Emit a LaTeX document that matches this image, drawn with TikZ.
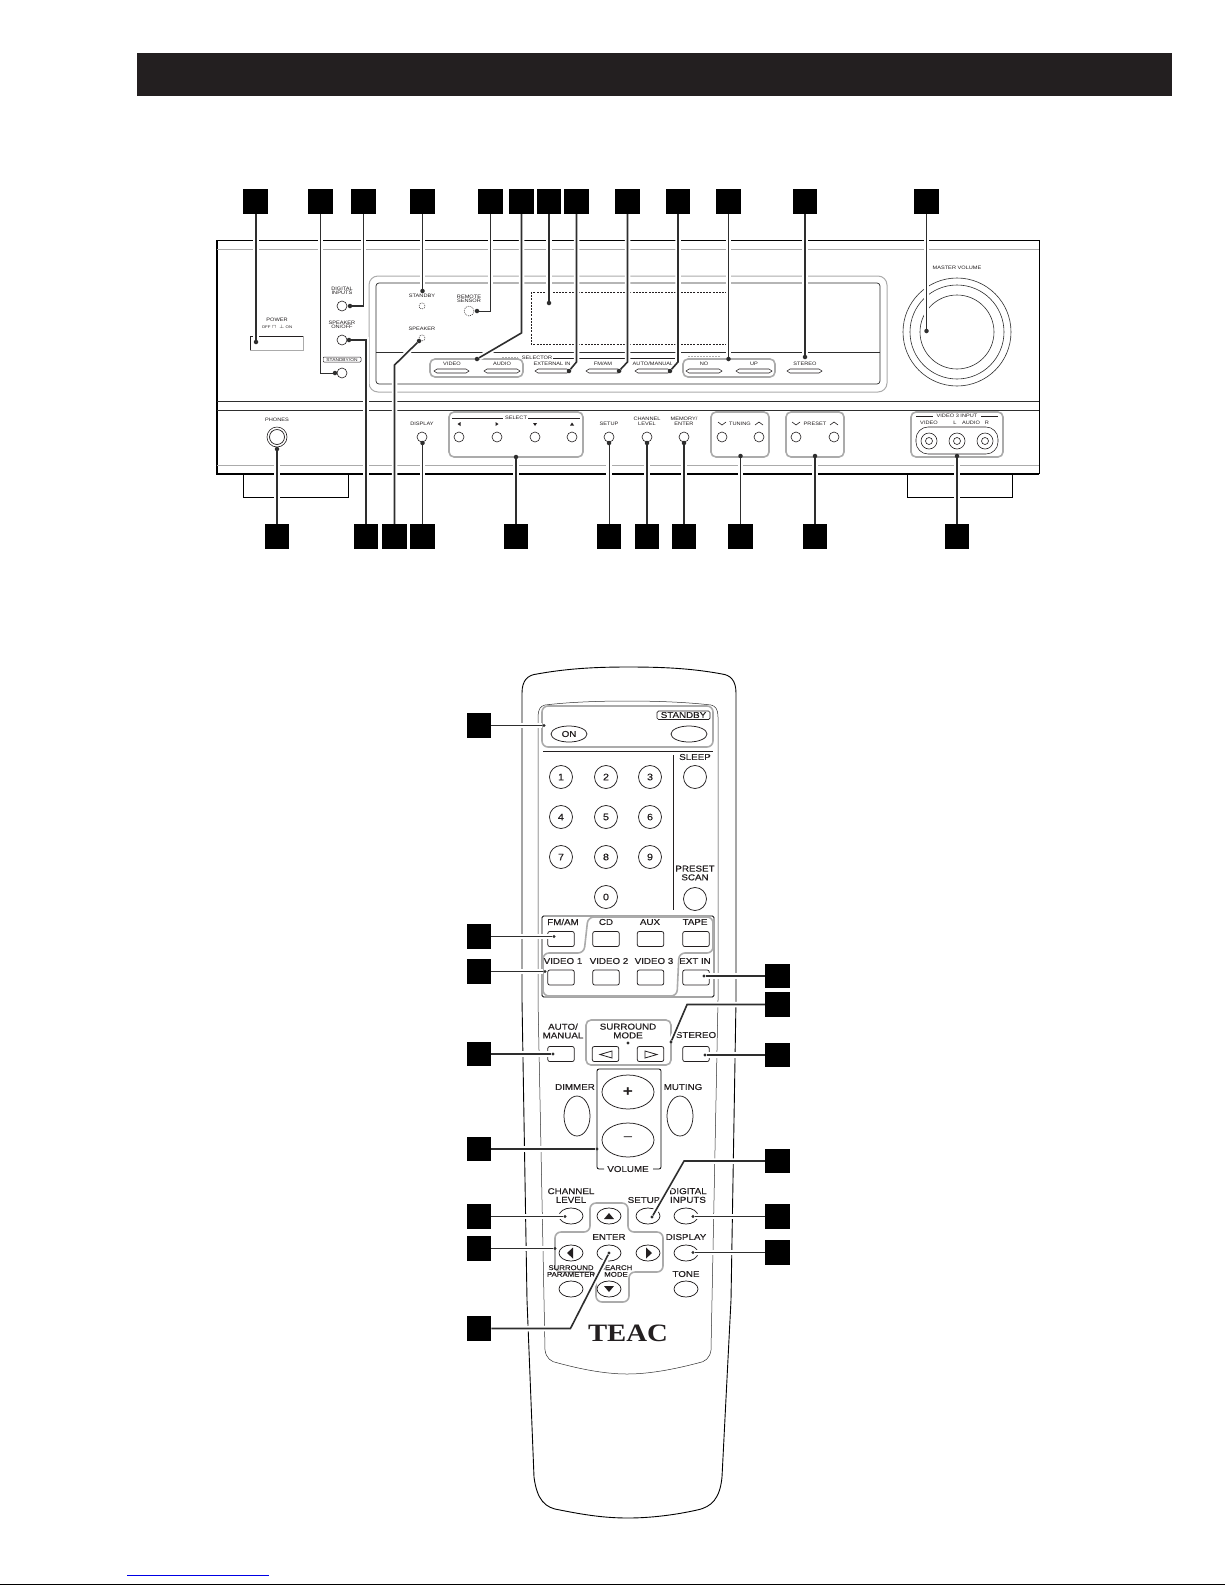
\documentclass[tikz,border=0pt]{standalone}
\usepackage{fontspec}
\setmainfont[FakeStretch=1.15]{Liberation Sans}
\newfontfamily\remfont[FakeStretch=1.15,FakeBold=0.35]{Liberation Sans}
\newfontfamily\teacfont[FakeStretch=1.15]{Liberation Serif}
\usetikzlibrary{shapes.geometric,calc}
\pgfdeclarelayer{art}
\pgfdeclarelayer{lead}
\pgfsetlayers{art,lead,main}
\definecolor{ink}{HTML}{231F20}
\definecolor{lineink}{HTML}{2E2E2E}
\definecolor{grp}{HTML}{ABABAB}
\tikzset{
  lbl/.style={inner sep=0pt,text=ink,align=center},
  rtxt/.style={lbl,font=\fontsize{4.9}{4.6}\selectfont},
  tiny/.style={lbl,font=\fontsize{3.8}{3.8}\selectfont},
  ctxt/.style={lbl,font=\remfont\fontsize{8.5}{8.7}\selectfont},
  stxt/.style={lbl,font=\remfont\fontsize{6.8}{6.7}\selectfont},
  sq/.style={fill=black,draw=none,inner sep=0pt,minimum size=24.5pt},
  dotp/.style={circle,fill=lineink,draw=none,inner sep=0pt,minimum size=4.5pt},
  dots/.style={circle,fill=lineink,draw=none,inner sep=0pt,minimum size=3.4pt},
  thinl/.style={draw=lineink,line width=1pt,preaction={draw=white,line width=5.5pt}},
  thickl/.style={draw=lineink,line width=1.6pt,preaction={draw=white,line width=5.5pt}},
  group/.style={draw=grp,line width=1.6pt,rounded corners=5pt},
  rb/.style={circle,draw=ink,line width=.6pt,inner sep=0pt,minimum size=#1},
  dashb/.style={circle,draw=ink,line width=.5pt,dash pattern=on 1pt off 1pt,inner sep=0pt,minimum size=#1},
  numkey/.style={circle,draw=ink,line width=.75pt,inner sep=0pt,minimum size=23pt,text=ink,font=\remfont\fontsize{9.4}{9.4}\selectfont},
  keybtn/.style={rectangle,rounded corners=2pt,draw=ink,line width=.75pt,inner sep=0pt,minimum width=26.5pt,minimum height=15pt},
  oval/.style 2 args={ellipse,draw=ink,line width=.75pt,inner sep=0pt,minimum width=#1,minimum height=#2},
}
\newcommand{\hexbtn}[2]{\draw[ink,line width=.55pt] ({#1+3},369)--({#2-3},369)--(#2,371)--({#2-3},373)--({#1+3},373)--(#1,371)--cycle;}
\begin{document}
\begin{tikzpicture}[x=1pt,y=-1pt]
\useasboundingbox (0,0) rectangle (1225,1585);
\begin{pgfonlayer}{art}
\fill[white] (0,0) rectangle (1225,1585);
\fill[ink] (137,53) rectangle (1172,96);
\draw[black,line width=1pt] (0,1584) -- (1225,1584);
\draw[blue!90!black,line width=1pt] (127,1575) -- (269,1575);

% ---------- receiver ----------
\draw[black,line width=1pt] (217,240) -- (1039,240) -- (1039,474);
\draw[black,line width=1.6pt] (217,240) -- (217,474) -- (1039,474);
\draw[black,line width=.9pt] (243,474) -- (243,497) -- (348,497) -- (348,474);
\draw[black,line width=.9pt] (907,474) -- (907,497) -- (1012,497) -- (1012,474);
\draw[grp,line width=1pt] (217,249.5) -- (1039,249.5);
\draw[grp,line width=1pt] (217,465) -- (1039,465);
\draw[lineink,line width=.8pt] (217,401) -- (1039,401);
\draw[lineink,line width=.6pt] (217,410) -- (1039,410);

% display window
\draw[grp,line width=1pt,rounded corners=9pt] (369,276) rectangle (887,392);
\draw[lineink,line width=.7pt,rounded corners=3pt] (376,283) rectangle (880,384);
\draw[lineink,line width=.7pt] (376,352) -- (880,352);
\draw[ink,line width=.7pt,dash pattern=on 2pt off 1.2pt] (531,292) rectangle (726,344);
\draw[ink,line width=.7pt] (553,358) -- (675,358);
\draw[grp,line width=.6pt,dash pattern=on 2pt off 1pt] (502,357) -- (518,357);
\draw[grp,line width=.6pt,dash pattern=on 2pt off 1pt] (688,356) -- (720,356);

\node[rtxt] (tPower) at (277,320) {POWER};
\node[tiny] (tOff) at (277,327) {OFF\,\,$\sqcap$\,\,\,\,$\perp$\,\,ON};
\draw[grp,line width=.8pt] (250,336) rectangle (303,350);
\draw[ink,line width=.5pt] (250,350) -- (250,336) -- (303,336);
\node[rtxt] (tDig) at (342,291) {DIGITAL\\INPUTS};
\node[rb=10pt] (bDig) at (342,306) {};
\node[rtxt] (tSpk) at (342,325) {SPEAKER\\ON/OFF};
\node[rb=10pt] (bSpk) at (342,340) {};
\node[rtxt,font=\fontsize{4.2}{4.2}\selectfont] (tStb) at (342,359.5) {STANDBY/ON};
\draw[ink,line width=.5pt,rounded corners=1pt] (323,357) rectangle (361,362);
\node[rb=10pt] (bStb) at (342,373) {};
\node[rtxt] (tStby) at (422,296) {STANDBY};
\node[dashb=6pt] (bStby) at (422,306) {};
\node[rtxt] (tRem) at (469,299) {REMOTE\\SENSOR};
\node[dashb=10pt] (bRem) at (469,311) {};
\node[rtxt] (tSpkr) at (422,329) {SPEAKER};
\node[dashb=6pt] (bSpkr) at (422,338) {};

\draw[group] (430,359) rectangle (523,377);
\node[rtxt] (tVid) at (452,363.5) {VIDEO};
\node[rtxt] (tAud) at (502,363.5) {AUDIO};
\hexbtn{434}{469}
\hexbtn{484}{520}
\node[rtxt] (tSel) at (537,358) {SELECTOR};
\node[rtxt] (tExt) at (552,363.5) {EXTERNAL IN};
\hexbtn{535}{570}
\node[rtxt] (tFm) at (603,363.5) {FM/AM};
\hexbtn{586}{621}
\node[rtxt] (tAm) at (653,363.5) {AUTO/MANUAL};
\hexbtn{635}{671}
\draw[group] (683,359) rectangle (775,377);
\node[rtxt] (tNo) at (704,363.5) {NO};
\node[rtxt] (tUp) at (754,363.5) {UP};
\hexbtn{686}{722}
\hexbtn{736}{772}
\node[rtxt] (tSt) at (805,363.5) {STEREO};
\hexbtn{787}{822}

\node[rtxt] (tMV) at (957,268) {MASTER VOLUME};
\node[rb=108pt,draw=lineink] (vol1) at (957,332) {};
\node[rb=94pt,draw=lineink] (vol2) at (957,332) {};
\node[rb=74pt,draw=lineink] (vol3) at (957,332) {};

\node[rtxt] (tPh) at (277,420) {PHONES};
\node[rb=20pt] (jk1) at (277,437) {};
\node[rb=15pt,line width=.7pt] (jk2) at (277,437) {};
\node[rtxt] (tDisp) at (422,424) {DISPLAY};
\node[rb=10pt] (bDisp) at (422,437) {};
\draw[group] (449,412) rectangle (583,457);
\node[rtxt] (tSelect) at (516,418) {SELECT};
\draw[ink,line width=.6pt] (452,418) -- (503,418) (528,418) -- (580,418);
\foreach \nm/\x in {a/459,b/497,c/535,d/572} \node[rb=10pt] (bS\nm) at (\x,437) {};
\fill[ink] (457.5,424) -- (460.5,422) -- (460.5,426) -- cycle;
\fill[ink] (498.5,424) -- (495.5,422) -- (495.5,426) -- cycle;
\fill[ink] (533,423) -- (537,423) -- (535,426) -- cycle;
\fill[ink] (570,425.5) -- (574,425.5) -- (572,422.5) -- cycle;
\node[rtxt] (tSetup) at (609,424) {SETUP};
\node[rb=10pt] (bSetup) at (609,437) {};
\node[rtxt] (tCh) at (647,421.5) {CHANNEL\\LEVEL};
\node[rb=10pt] (bCh) at (647,437) {};
\node[rtxt] (tMem) at (684,421.5) {MEMORY/\\ENTER};
\node[rb=10pt] (bMem) at (684,437) {};
\draw[group] (711,412) rectangle (769,457);
\node[rtxt] (tTun) at (740,424) {TUNING};
\node[rb=10pt] (bTa) at (722,437) {};
\node[rb=10pt] (bTb) at (759,437) {};
\draw[ink,line width=.6pt] (718,422) -- (722,425) -- (726,422) (755,425) -- (759,422) -- (763,425);
\draw[group] (786,412) rectangle (844,457);
\node[rtxt] (tPre) at (815,424) {PRESET};
\node[rb=10pt] (bPa) at (796,437) {};
\node[rb=10pt] (bPb) at (834,437) {};
\draw[ink,line width=.6pt] (792,422) -- (796,425) -- (800,422) (830,425) -- (834,422) -- (838,425);
\draw[group] (911,412) rectangle (1003,457);
\node[rtxt] (tV3) at (957,416) {VIDEO 3 INPUT};
\draw[ink,line width=.6pt] (916,416) -- (933,416) (981,416) -- (998,416);
\node[rtxt] (tV) at (929,423) {VIDEO};
\node[rtxt] (tL) at (955,423) {L};
\node[rtxt] (tA) at (971,423) {AUDIO};
\node[rtxt] (tR) at (987,423) {R};
\draw[ink,line width=.55pt,rounded corners=12pt] (916,427) rectangle (998,454);
\foreach \nm/\x in {a/929,b/957,c/985} {
  \node[rb=16pt] (jo\nm) at (\x,441) {};
  \node[rb=7pt] (ji\nm) at (\x,441) {};
}

% ---------- remote ----------
\draw[black,line width=.9pt] (522,693) .. controls (522,680) and (528,675) .. (537,674)
  .. controls (570,668) and (600,667) .. (628,667) .. controls (660,667) and (690,668) .. (722,674)
  .. controls (730,675) and (736,680) .. (736,693) -- (736,1000) -- (731,1300) -- (722,1477)
  .. controls (720,1498) and (712,1507) .. (697,1510) .. controls (675,1515) and (650,1518) .. (628,1518)
  .. controls (605,1518) and (585,1515) .. (560,1510) .. controls (545,1508) and (537,1500) .. (534,1477)
  -- (527,1300) -- (522,1000) -- cycle;
\draw[lineink,line width=.5pt] (538,717) .. controls (538,710) and (540,706) .. (545,705)
  .. controls (570,702) and (600,701) .. (627,701) .. controls (655,701) and (685,702) .. (711,705)
  .. controls (716,706) and (718,710) .. (718,717) -- (718,1000) -- (711,1350)
  .. controls (710,1358) and (705,1362) .. (698,1363) .. controls (675,1369) and (650,1374) .. (627,1374)
  .. controls (605,1374) and (580,1369) .. (558,1363) .. controls (551,1362) and (546,1358) .. (545,1350)
  -- (538,1000) -- cycle;
\draw[group,rounded corners=6pt] (542,706) rectangle (713,747);
\node[oval={36pt}{16pt},font=\remfont\fontsize{8.5}{9}\selectfont,text=ink] (kOn) at (569,734) {ON};
\node[oval={36pt}{16pt}] (kStby) at (689,734) {};
\node[ctxt] (tStandby) at (683.5,715) {STANDBY};
\draw[ink,line width=.7pt,rounded corners=1.5pt] (657,711) rectangle (710,719.5);
\draw[ink,line width=.8pt] (543,751) -- (713,751);
\draw[ink,line width=.8pt] (673,755) -- (673,910);
\node[numkey] (k1) at (561,777) {1};
\node[numkey] (k2) at (606,777) {2};
\node[numkey] (k3) at (650,777) {3};
\node[numkey] (k4) at (561,817) {4};
\node[numkey] (k5) at (606,817) {5};
\node[numkey] (k6) at (650,817) {6};
\node[numkey] (k7) at (561,857) {7};
\node[numkey] (k8) at (606,857) {8};
\node[numkey] (k9) at (650,857) {9};
\node[numkey] (k0) at (606,897) {0};
\node[ctxt] (tSleep) at (695,757) {SLEEP};
\node[numkey] (kSleep) at (695,777) {};
\node[ctxt] (tScan) at (695,873) {PRESET\\SCAN};
\node[numkey] (kScan) at (695,899) {};

\draw[black,line width=.8pt,rounded corners=1.5pt] (542,916) rectangle (714,997);
\draw[group,rounded corners=6pt] (588,917) -- (713,917) -- (713,953) -- (679,953) -- (677,996) -- (543,996) -- (543,953) -- (584,953) -- cycle;
\node[ctxt] (tFM) at (563,922) {FM/AM};
\node[ctxt] (tCD) at (606,922) {CD};
\node[ctxt] (tAUX) at (650,922) {AUX};
\node[ctxt] (tTAPE) at (695,922) {TAPE};
\node[ctxt] (tV1) at (563,961) {VIDEO 1};
\node[ctxt] (tV2) at (609,961) {VIDEO 2};
\node[ctxt] (tV3r) at (654,961) {VIDEO 3};
\node[ctxt] (tEXT) at (695,961) {EXT IN};
\foreach \nm/\x in {a/561,b/606,c/650.5,d/696} {
  \node[keybtn] (kU\nm) at (\x,939) {};
  \node[keybtn] (kL\nm) at (\x,977.5) {};
}
\draw[group] (586,1020) rectangle (671,1065);
\node[ctxt] (tAM) at (563,1031) {AUTO/\\MANUAL};
\node[ctxt] (tSur) at (628,1031) {SURROUND\\MODE};
\node[ctxt] (tSter) at (696,1035) {STEREO};
\node[keybtn] (kAM) at (561,1054) {};
\node[keybtn] (kSL) at (605.5,1054) {};
\node[keybtn] (kSR) at (650.5,1054) {};
\node[keybtn] (kSt) at (696,1054) {};
\node[dots] (dSur) at (628,1043) {};
\draw[ink,line width=.8pt] (600,1054.5) -- (612,1051) -- (612,1058) -- cycle;
\draw[ink,line width=.8pt] (645,1051) -- (645,1058) -- (657,1054.5) -- cycle;

\draw[black,line width=.8pt,rounded corners=2pt] (604,1169) -- (597,1169) -- (597,1069) -- (661,1069) -- (661,1169) -- (653,1169);
\node[ctxt] (tVol) at (628,1169) {VOLUME};
\node[oval={52pt}{34pt}] (kPlus) at (628,1092) {};
\node[lbl,font=\fontsize{15}{15}\bfseries\selectfont] (tPlus) at (628,1092) {+};
\node[oval={52pt}{34pt}] (kMinus) at (628,1140) {};
\node[lbl,font=\fontsize{13}{13}\selectfont] (tMinus) at (628,1139) {–};
\node[ctxt] (tDim) at (575,1087) {DIMMER};
\node[oval={26pt}{40pt}] (kDim) at (577,1116) {};
\node[ctxt] (tMut) at (683,1087) {MUTING};
\node[oval={26pt}{40pt}] (kMut) at (680,1116) {};

\draw[group,rounded corners=6pt] (590,1232) -- (590,1203) -- (628,1203) -- (628,1232) -- (663,1232) -- (663,1272) -- (629,1272) -- (629,1302) -- (596,1302) -- (596,1272) -- (555,1272) -- (555,1232) -- cycle;
\node[ctxt] (tChL) at (571,1195.5) {CHANNEL\\LEVEL};
\node[ctxt] (tSetupR) at (644,1200) {SETUP};
\node[ctxt] (tDigR) at (688,1195.5) {DIGITAL\\INPUTS};
\node[ctxt] (tEnter) at (609,1237) {ENTER};
\node[ctxt] (tDispR) at (686,1237) {DISPLAY};
\node[stxt] (tSP) at (571,1271) {SURROUND\\PARAMETER};
\node[stxt] (tSM) at (616,1271) {SEARCH\\MODE};
\node[ctxt] (tTone) at (686,1274) {TONE};
\foreach \nm/\x/\y in {a/571/1216,b/609/1216,c/648/1216,d/686/1216,e/571/1253,f/609/1253,g/648/1253,h/686/1253,i/571/1289,j/609/1289,k/686/1289}
  \node[oval={24pt}{16pt}] (kN\nm) at (\x,\y) {};
\fill[ink] (604,1219) -- (614,1219) -- (609,1213) -- cycle;
\fill[ink] (604,1286) -- (614,1286) -- (609,1292) -- cycle;
\fill[ink] (567,1253) -- (573,1247.5) -- (573,1258.5) -- cycle;
\fill[ink] (652,1253) -- (646,1247.5) -- (646,1258.5) -- cycle;
\node[lbl,font=\teacfont\bfseries\fontsize{25}{25}\selectfont] (tTEAC) at (628,1333) {TEAC};
\end{pgfonlayer}

% ---------- index squares ----------
\foreach \nm/\x in {a/255.5,b/320.5,c/363.5,d/422.5,e/490.5,f/521.5,g/549,h/576.5,i/627.5,j/678,k/728.5,l/805,m/926.5}
  \node[sq] (t\nm) at (\x,201.5) {};
\foreach \nm/\x in {a/277,b/366,c/394.5,d/422.5,e/516,f/609,g/647,h/684,i/740.5,j/815,k/957}
  \node[sq] (u\nm) at (\x,536.5) {};
\foreach \nm/\y in {a/725.5,b/936.5,c/971.5,d/1054,e/1149,f/1216.5,g/1248.5,h/1328.5}
  \node[sq] (l\nm) at (479,\y) {};
\foreach \nm/\y in {a/976,b/1004.5,c/1055,d/1161,e/1216.5,f/1252.5}
  \node[sq] (r\nm) at (777.5,\y) {};

% ---------- end dots ----------
\node[dotp] (da) at (256,342) {};
\node[dotp] (db) at (335,373) {};
\node[dotp] (dc) at (350,306) {};
\node[dotp] (dd) at (422.5,291) {};
\node[dotp] (de) at (477,311) {};
\node[dotp] (df) at (477,359) {};
\node[dotp] (dg) at (549,303) {};
\node[dotp] (dh) at (569,371) {};
\node[dotp] (di) at (619,371) {};
\node[dotp] (dj) at (670,371) {};
\node[dotp] (dk) at (728.5,359) {};
\node[dotp] (dl) at (805,357) {};
\node[dotp] (dm) at (926.5,331) {};
\node[dotp] (ea) at (277,449) {};
\node[dotp] (eb) at (349,340) {};
\node[dotp] (ec) at (419,341) {};
\node[dotp] (ed) at (422.5,443) {};
\node[dotp] (ee) at (516,457) {};
\node[dotp] (ef) at (609,443) {};
\node[dotp] (eg) at (647,443) {};
\node[dotp] (eh) at (684,443) {};
\node[dotp] (ei) at (740.5,456) {};
\node[dotp] (ej) at (815,456) {};
\node[dotp] (ek) at (957,456) {};
\node[dots] (fa) at (544,725.5) {};
\node[dots] (fb) at (554,936.5) {};
\node[dots] (fc) at (545,971.5) {};
\node[dots] (fd) at (553,1054) {};
\node[dots] (fe) at (597,1149) {};
\node[dots] (ff) at (565,1216.5) {};
\node[dots] (fg) at (555,1248.5) {};
\node[dots] (fh) at (609,1253) {};
\node[dots] (ga) at (704,976) {};
\node[dots] (gb) at (671,1042) {};
\node[dots] (gc) at (705,1055) {};
\node[dots] (gd) at (652,1217) {};
\node[dots] (ge) at (693,1216.5) {};
\node[dots] (gf) at (693,1252.5) {};

% ---------- leaders ----------
\begin{pgfonlayer}{lead}
\draw[thickl] (ta.south -| da) -- (da);
\draw[thinl] (tb.south) |- (db);
\draw[thickl] (tc.south) |- (dc);
\draw[thickl] (td.south) -- (dd);
\draw[thinl] (te.south) |- (de);
\draw[thickl] (tf.south) -- ++(0,119) -- (df);
\draw[thickl] (tg.south) -- (dg);
\draw[thickl] (th.south) -- ++(0,148) -- (dh);
\draw[thickl] (ti.south) -- ++(0,148) -- (di);
\draw[thickl] (tj.south) -- ++(0,148) -- (dj);
\draw[thickl] (tk.south) -- (dk);
\draw[thickl] (tl.south) -- (dl);
\draw[thickl] (tm.south) -- (dm);
\draw[thickl] (ua.north) -- (ea);
\draw[thickl] (ub.north) |- (eb);
\draw[thickl] (uc.north) -- ++(0,-159) -- (ec);
\draw[thickl] (ud.north) -- (ed);
\draw[thickl] (ue.north) -- (ee);
\draw[thinl] (uf.north) -- (ef);
\draw[thickl] (ug.north) -- (eg);
\draw[thickl] (uh.north) -- (eh);
\draw[thickl] (ui.north) -- (ei);
\draw[thickl] (uj.north) -- (ej);
\draw[thickl] (uk.north) -- (ek);
\draw[thinl] (la.east) -- (fa);
\draw[thickl] (lb.east) -- (fb);
\draw[thickl] (lc.east) -- (fc);
\draw[thickl] (ld.east) -- (fd);
\draw[thickl] (le.east) -- (fe);
\draw[thickl] (lf.east) -- (ff);
\draw[thickl] (lg.east) -- (fg);
\draw[thickl] (lh.east) -- ++(79,0) -- (fh);
\draw[thickl] (ra.west) -- (ga);
\draw[thickl] (rb.west) -- ++(-78,0) -- (gb);
\draw[thickl] (rc.west) -- (gc);
\draw[thickl] (rd.west) -- ++(-81,0) -- (gd);
\draw[thickl] (re.west) -- (ge);
\draw[thickl] (rf.west) -- (gf);
\end{pgfonlayer}
\end{tikzpicture}
\end{document}
